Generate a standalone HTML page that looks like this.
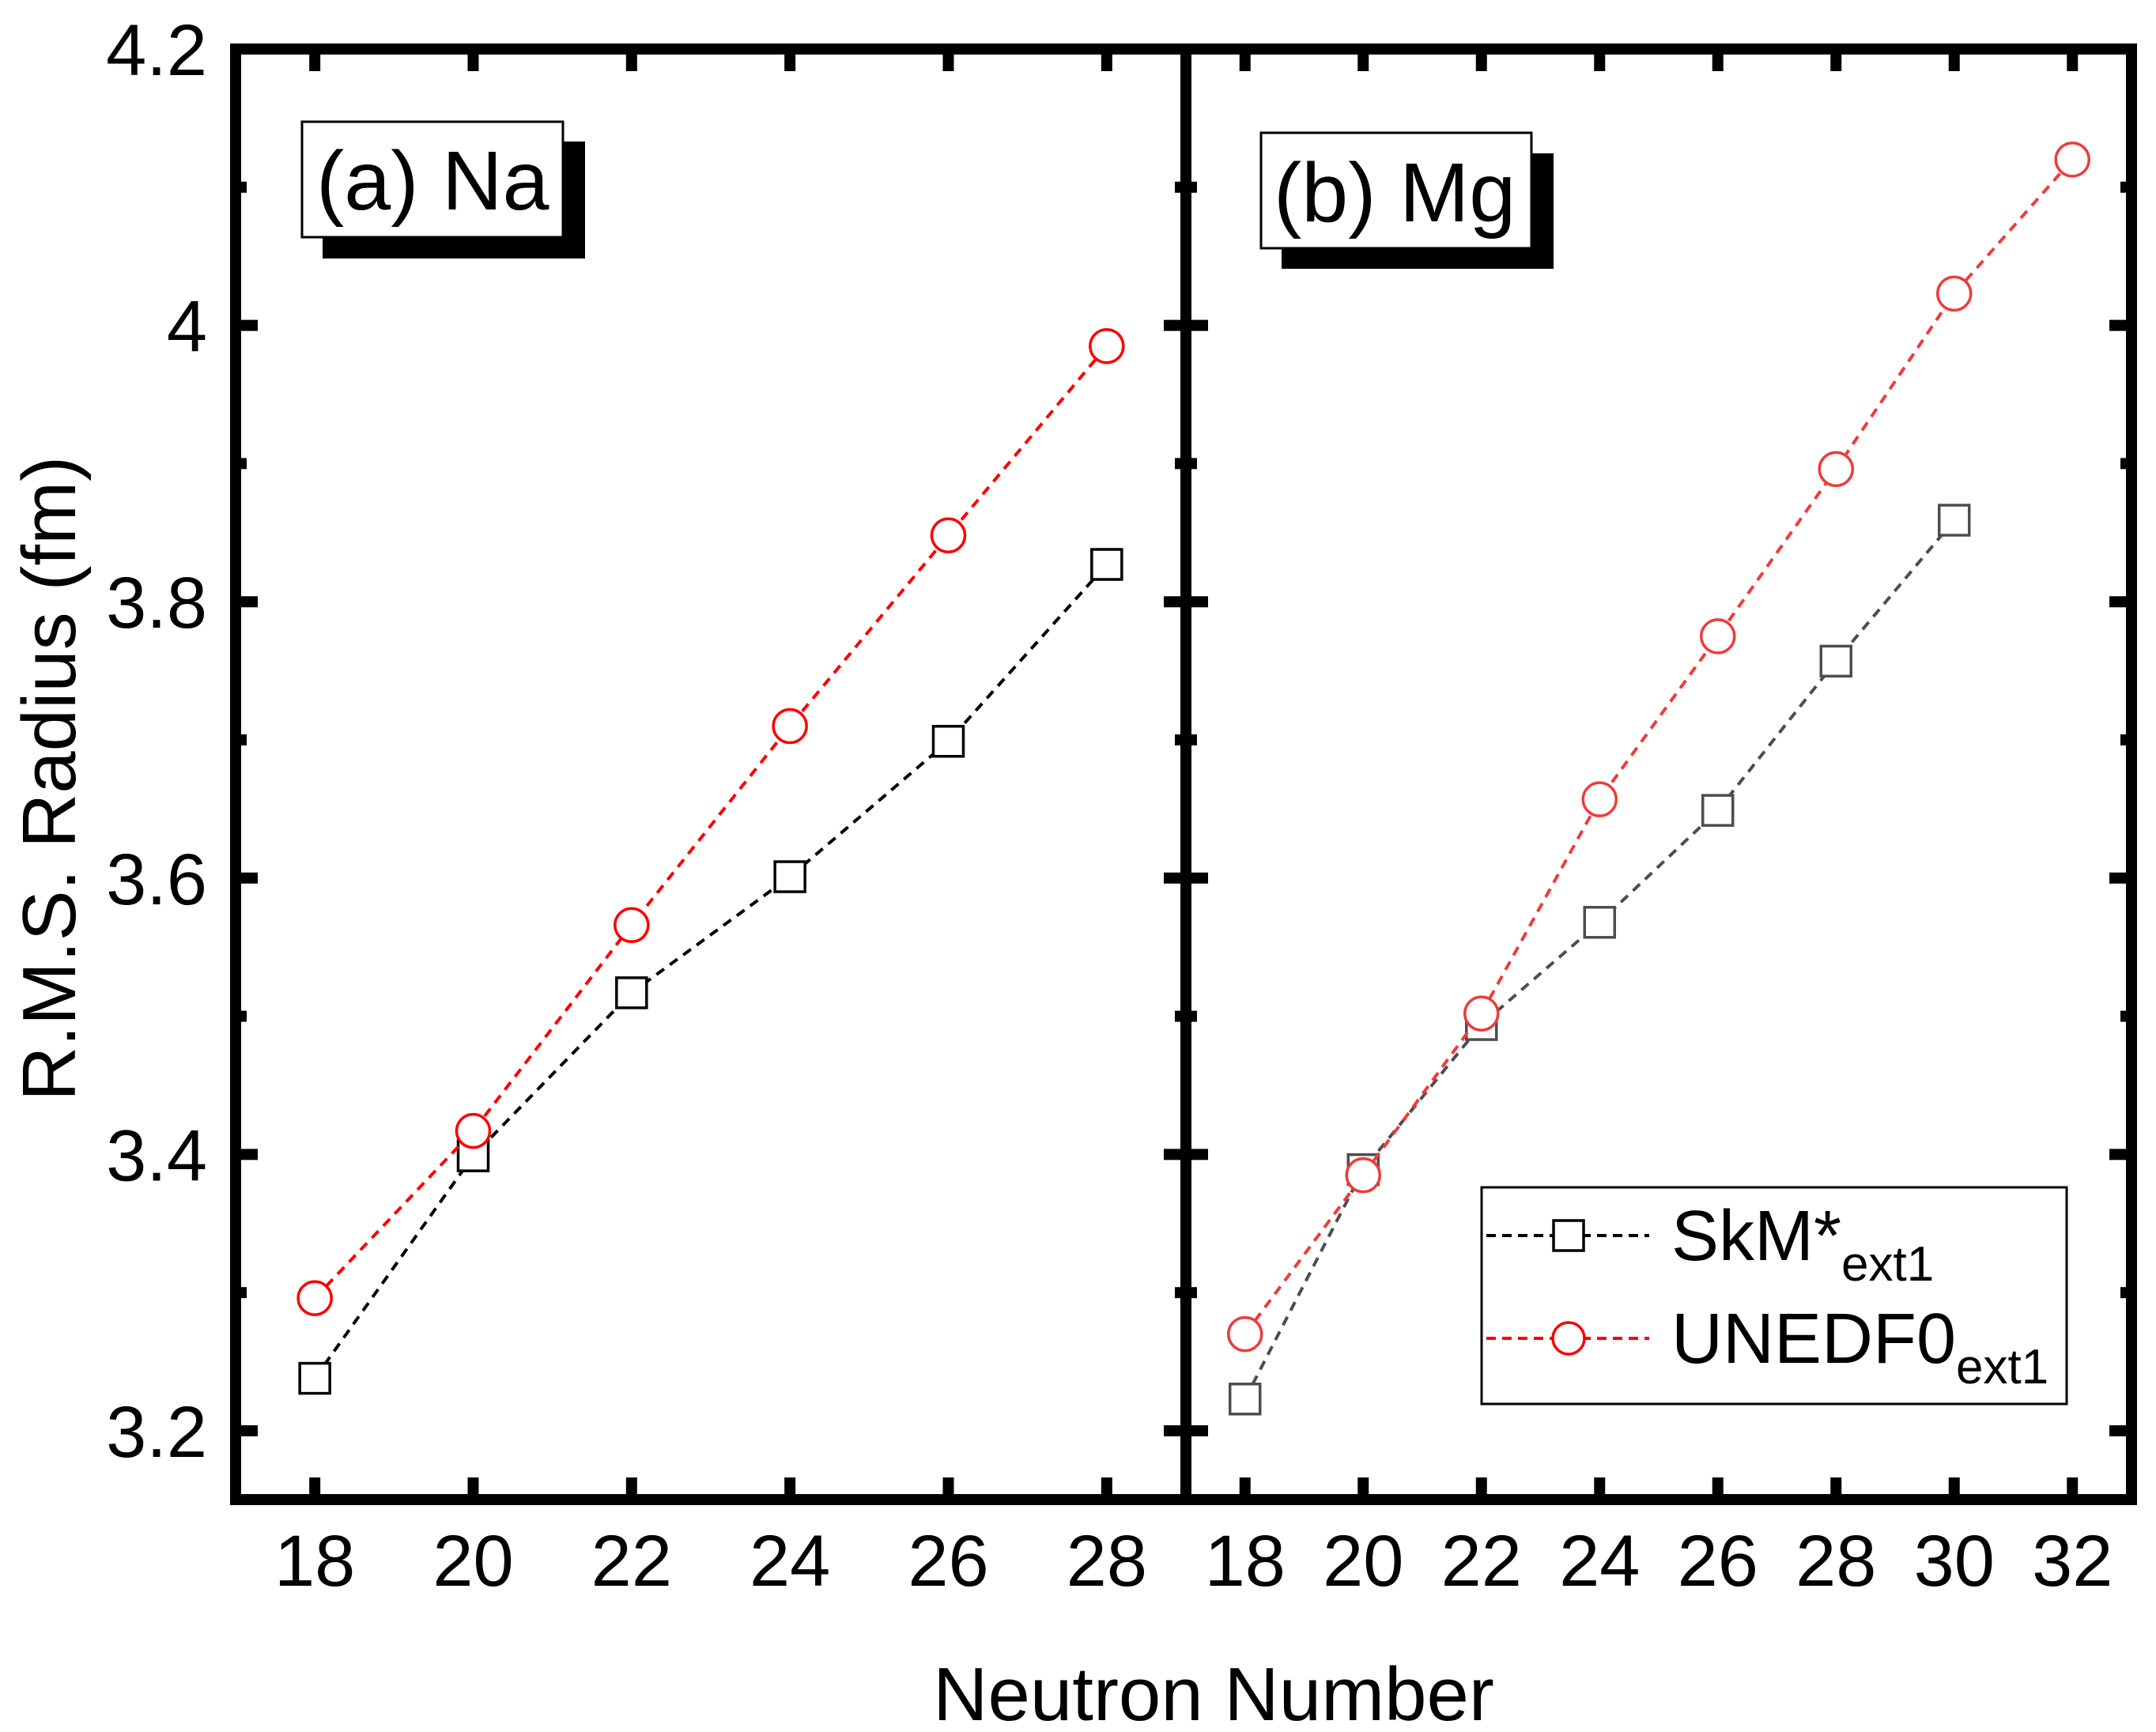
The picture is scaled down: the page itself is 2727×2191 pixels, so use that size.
<!DOCTYPE html>
<html><head><meta charset="utf-8"><style>
html,body{margin:0;padding:0;background:#fff;}
svg{display:block;font-family:"Liberation Sans",Arial,sans-serif;}
</style></head><body>
<svg id="chart" width="2727" height="2191" viewBox="0 0 2727 2191" xmlns="http://www.w3.org/2000/svg">
<g id="marks"></g>
<g id="frames"></g>
<text x="0" y="0" font-size="96" text-anchor="middle" transform="translate(95,985) rotate(-90)">R.M.S. Radius (fm)</text>
<text x="1535" y="2176" font-size="96" text-anchor="middle">Neutron Number</text>
<g>
<rect x="408" y="179" width="332" height="148" fill="#000"/>
<rect x="382" y="154" width="330" height="146" fill="#fff" stroke="#000" stroke-width="3"/>
<text x="400" y="265" font-size="106">(a) Na</text>
</g>
<g>
<rect x="1621" y="194" width="344" height="146" fill="#000"/>
<rect x="1595" y="168" width="342" height="146" fill="#fff" stroke="#000" stroke-width="3"/>
<text x="1611" y="280" font-size="106">(b) Mg</text>
</g>
<g>
<rect x="1874" y="1502" width="740" height="274" fill="#fff" stroke="#000" stroke-width="3"/>
<g>
<line x1="1880" y1="1563" x2="2086" y2="1563" stroke="#000" stroke-width="4" stroke-dasharray="12 8"/>
<rect x="1965" y="1544" width="38" height="38" fill="#fff" stroke="#000" stroke-width="3.5"/>
<text x="2114" y="1594" font-size="90">SkM*<tspan font-size="62" dy="26">ext1</tspan></text>
</g>
<g>
<line x1="1880" y1="1693" x2="2086" y2="1693" stroke="#f00" stroke-width="4" stroke-dasharray="12 8"/>
<circle cx="1984" cy="1693" r="20" fill="#fff" stroke="#f00" stroke-width="3.5"/>
<text x="2114" y="1724" font-size="90">UNEDF0<tspan font-size="62" dy="26">ext1</tspan></text>
</g>
</g>
</svg>
<script>
const yTicksMajor = [3.2, 3.4, 3.6, 3.8, 4.0, 4.2];
const yTickLabels = ["3.2", "3.4", "3.6", "3.8", "4", "4.2"];
const yTicksMinor = [3.3, 3.5, 3.7, 3.9, 4.1];
const naN = [18, 20, 22, 24, 26, 28];
const naSkM = [3.238, 3.399, 3.517, 3.601, 3.699, 3.827];
const naUNEDF0 = [3.296, 3.417, 3.566, 3.710, 3.848, 3.985];
const mgSkMN = [18, 20, 22, 24, 26, 28, 30];
const mgSkM = [3.223, 3.389, 3.494, 3.568, 3.649, 3.757, 3.859];
const mgUNEDF0N = [18, 20, 22, 24, 26, 28, 30, 32];
const mgUNEDF0 = [3.270, 3.385, 3.502, 3.657, 3.775, 3.896, 4.023, 4.120];
const naXTicks = [18, 20, 22, 24, 26, 28];
const mgXTicks = [18, 20, 22, 24, 26, 28, 30, 32];

const NS = "http://www.w3.org/2000/svg";
const yTop = 62, yBot = 1897;
function yScale(v){ return 62 + (4.2 - v) * 1748; }
const panels = [
  {name:"na", x0:298, x1:1500, d0:17, d1:29},
  {name:"mg", x0:1500, x1:2696, d0:17, d1:33}
];
function xs(p, n){ return p.x0 + (n - p.d0) * (p.x1 - p.x0) / (p.d1 - p.d0); }
function mk(tag, attrs, parent){ const e=document.createElementNS(NS,tag); for(const k in attrs) e.setAttribute(k,attrs[k]); parent.appendChild(e); return e; }
const marks = document.getElementById('marks');
const frames = document.getElementById('frames');

function series(p, xsArr, ys, color, shape, name){
  const g = mk('g', {}, marks);
  
  
  const pts = xsArr.map((n,i)=> xs(p,n)+','+yScale(ys[i])).join(' ');
  const pl = mk('polyline', {points:pts, fill:'none', stroke:color, 'stroke-width':4, 'stroke-dasharray':'12 9'}, g);
  
  
  xsArr.forEach((n,i)=>{
    const cx = xs(p,n), cy = yScale(ys[i]);
    let m;
    if(shape==='square') m = mk('rect', {x:cx-19, y:cy-19, width:38, height:38, fill:'#fff', stroke:color, 'stroke-width':3.5}, g);
    else m = mk('circle', {cx:cx, cy:cy, r:21, fill:'#fff', stroke:color, 'stroke-width':3.5}, g);
    
    
  });
}
series(panels[0], naN, naSkM, '#000', 'square', 'na-skm-series');
series(panels[0], naN, naUNEDF0, '#f00', 'circle', 'na-unedf0-series');
series(panels[1], mgSkMN, mgSkM, '#4d4d4d', 'square', 'mg-skm-series');
series(panels[1], mgUNEDF0N, mgUNEDF0, '#ef3b3b', 'circle', 'mg-unedf0-series');

panels.forEach((p, pi)=>{
  const g = mk('g', {}, frames);
  
  
  const ticks = pi===0 ? naXTicks : mgXTicks;
  ticks.forEach(n=>{
    const x = xs(p,n);
    mk('line', {x1:x, y1:yBot, x2:x, y2:yBot-28, stroke:'#000', 'stroke-width':14}, g);
    mk('line', {x1:x, y1:yTop, x2:x, y2:yTop+28, stroke:'#000', 'stroke-width':14}, g);
    const t = mk('text', {x:x, y:2006, 'font-size':92, 'text-anchor':'middle'}, g);
    t.textContent = String(n);
    
    
  });
  yTicksMajor.forEach(v=>{
    const y = yScale(v);
    mk('line', {x1:p.x0, y1:y, x2:p.x0+28, y2:y, stroke:'#000', 'stroke-width':14}, g);
    mk('line', {x1:p.x1, y1:y, x2:p.x1-28, y2:y, stroke:'#000', 'stroke-width':14}, g);
  });
  yTicksMinor.forEach(v=>{
    const y = yScale(v);
    mk('line', {x1:p.x0, y1:y, x2:p.x0+14, y2:y, stroke:'#000', 'stroke-width':14}, g);
    mk('line', {x1:p.x1, y1:y, x2:p.x1-14, y2:y, stroke:'#000', 'stroke-width':14}, g);
  });
  mk('rect', {x:p.x0, y:yTop, width:p.x1-p.x0, height:yBot-yTop, fill:'none', stroke:'#000', 'stroke-width':14}, g);
});
yTicksMajor.forEach((v,i)=>{
  const t = mk('text', {x:262, y:yScale(v)+33, 'font-size':92, 'text-anchor':'end'}, frames);
  t.textContent = yTickLabels[i];
  
  
});
</script>
</body></html>
